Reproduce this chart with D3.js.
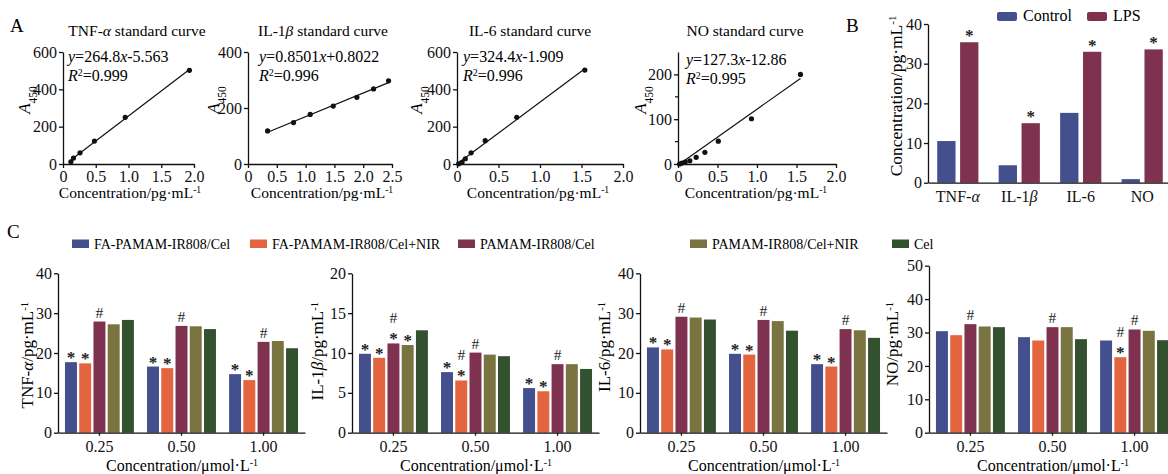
<!DOCTYPE html>
<html>
<head>
<meta charset="utf-8">
<script src="https://cdn.jsdelivr.net/npm/d3@7"></script>
<style>
  body { margin: 0; background: #fff; }
  svg { font-family: "Liberation Serif", "Times New Roman", serif; }
</style>
</head>
<body>
<svg id="fig" width="1168" height="474"></svg>
<script>
// ---- data: standard curves (A)
const stdTitles = ["TNF-{α} standard curve", "IL-1{β} standard curve", "IL-6 standard curve", "NO standard curve"];
const stdEquations = ["{y}=264.8{x}-5.563", "{y}=0.8501{x}+0.8022", "{y}=324.4{x}-1.909", "{y}=127.3{x}-12.86"];
const stdR2 = ["0.999", "0.996", "0.996", "0.995"];
const tnfStdX = [0.12, 0.16, 0.26, 0.48, 0.95, 1.93];
const tnfStdY = [12, 32, 60, 123, 250, 502];
const il1bStdX = [0.34, 0.79, 1.08, 1.48, 1.89, 2.18, 2.44];
const il1bStdY = [118, 148, 177, 207, 238, 268, 297];
const il6StdX = [0.02, 0.06, 0.10, 0.17, 0.34, 0.72, 1.54];
const il6StdY = [1, 9, 28, 60, 125, 250, 503];
const noStdX = [0.02, 0.05, 0.09, 0.15, 0.23, 0.34, 0.51, 0.93, 1.55];
const noStdY = [0, 2, 4, 7, 15, 26, 51, 101, 200];

// ---- data: control vs LPS (B)
const bCategories = ["TNF-{α}", "IL-1{β}", "IL-6", "NO"];
const bSeries = ["Control", "LPS"];
const bControl = [10.5, 4.4, 17.6, 0.9];
const bLPS = [35.4, 15.0, 33.0, 33.6];
const bMarks = ["*", "*", "*", "*"];

// ---- data: treatments (C)
const concLabels = ["0.25", "0.50", "1.00"];
const groupNames = ["FA-PAMAM-IR808/Cel", "FA-PAMAM-IR808/Cel+NIR", "PAMAM-IR808/Cel", "PAMAM-IR808/Cel+NIR", "Cel"];
const tnfVals = [[17.7, 17.4, 27.9, 27.2, 28.3], [16.6, 16.2, 26.8, 26.7, 26.0], [14.7, 13.2, 22.8, 23.0, 21.2]];
const tnfMarks = [["*", "*", "#", "", ""], ["*", "*", "#", "", ""], ["*", "*", "#", "", ""]];
const il1bVals = [[9.9, 9.4, 11.2, 11.0, 12.85], [7.6, 6.55, 10.05, 9.8, 9.6], [5.6, 5.2, 8.6, 8.6, 8.0]];
const il1bMarks = [["*", "*", "#*", "*", ""], ["*", "#*", "#", "", ""], ["*", "*", "#", "", ""]];
const il6Vals = [[21.4, 20.9, 29.1, 28.9, 28.4], [19.8, 19.6, 28.3, 28.0, 25.6], [17.2, 16.6, 26.0, 25.7, 23.8]];
const il6Marks = [["*", "*", "#", "", ""], ["*", "*", "#", "", ""], ["*", "*", "#", "", ""]];
const noVals = [[30.4, 29.2, 32.5, 31.8, 31.6], [28.6, 27.6, 31.6, 31.6, 28.0], [27.6, 22.6, 30.9, 30.5, 27.7]];
const noMarks = [["", "", "#", "", ""], ["", "", "#", "", ""], ["", "#*", "#", "", ""]];

const colors = ["#444f8e", "#e2653f", "#7e3250", "#78733f", "#34512f"];

const svg = d3.select("#fig");

// text with {italic}, ^{sup}, _{sub}
function rich(text, str) {
    str.split(/(\^\{[^}]*\}|_\{[^}]*\}|\{[^}]*\})/).filter(s => s !== "").forEach(s => {
        if (s.startsWith("^{")) {
            text.append("tspan").text(s.slice(2, -1)).attr("baseline-shift", "super").style("font-size", "0.62em");
        } else if (s.startsWith("_{")) {
            text.append("tspan").text(s.slice(2, -1)).attr("baseline-shift", "sub").style("font-size", "0.68em");
        } else if (s.startsWith("{")) {
            text.append("tspan").text(s.slice(1, -1)).style("font-style", "italic");
        } else {
            text.append("tspan").text(s);
        }
    });
    return text;
}

function styleAxis(g, fs) {
    g.selectAll(".domain, line").attr("stroke", "#111").attr("stroke-width", 1.3);
    g.selectAll("text").attr("fill", "#111").style("font-size", fs + "px").style("font-family", "Liberation Serif");
}

function fitLine(xs, ys) {
    const mx = d3.mean(xs), my = d3.mean(ys);
    let sxy = 0, sxx = 0;
    xs.forEach((x, i) => { sxy += (x - mx) * (ys[i] - my); sxx += (x - mx) * (x - mx); });
    const b = sxy / sxx;
    return [b, my - b * mx];
}

// ---------- A: standard curves
const stdData = [[tnfStdX, tnfStdY], [il1bStdX, il1bStdY], [il6StdX, il6StdY], [noStdX, noStdY]];
const stdLayout = [
    { x0: 63, x1: 194, xMax: 2, yMax: 600, yTicks: [0, 200, 400, 600], minor: [], cx: 130, tx: 137, eqX: 68, eqY: 62, labX: 30 },
    { x0: 248, x1: 392, xMax: 2.5, yMax: 400, yTicks: [0, 200, 400], minor: [], cx: 322, tx: 323, eqX: 259, eqY: 62, labX: 219 },
    { x0: 457, x1: 623, xMax: 2, yMax: 600, yTicks: [0, 200, 400, 600], minor: [], cx: 538, tx: 530, eqX: 463, eqY: 62, labX: 422 },
    { x0: 678, x1: 836, xMax: 2, yMax: 250, yTicks: [0, 100, 200], minor: [50, 150], cx: 756, tx: 745, eqX: 686, eqY: 65, labX: 646 }
];
const yTopA = 52, yBotA = 164;

stdLayout.forEach((L, k) => {
    const [xs, ys] = stdData[k];
    const x = d3.scaleLinear().domain([0, L.xMax]).range([L.x0, L.x1]);
    const y = d3.scaleLinear().domain([0, L.yMax]).range([yBotA, yTopA]);
    const g = svg.append("g");
    const xt = d3.range(0, L.xMax + 0.01, 0.5);
    g.append("g").attr("transform", `translate(0,${yBotA})`)
        .call(d3.axisBottom(x).tickValues(xt).tickSize(4).tickSizeOuter(0).tickPadding(3)
            .tickFormat(d => d === 0 ? "0" : d3.format(".1f")(d)))
        .call(a => styleAxis(a, 16));
    g.append("g").attr("transform", `translate(${L.x0},0)`)
        .call(d3.axisLeft(y).tickValues(L.yTicks).tickSize(4).tickSizeOuter(0).tickPadding(2))
        .call(a => styleAxis(a, 16));
    g.selectAll(".minor").data(L.minor).join("line")
        .attr("x1", L.x0 - 3).attr("x2", L.x0).attr("y1", d => y(d)).attr("y2", d => y(d))
        .attr("stroke", "#111").attr("stroke-width", 1.2);

    const [b, a] = fitLine(xs, ys);
    const lx0 = d3.min(xs), lx1 = d3.max(xs);
    g.append("line")
        .attr("x1", x(lx0)).attr("y1", y(Math.max(0, a + b * lx0)))
        .attr("x2", x(lx1)).attr("y2", y(a + b * lx1))
        .attr("stroke", "#111").attr("stroke-width", 1.2);
    g.selectAll("circle").data(xs).join("circle")
        .attr("cx", d => x(d)).attr("cy", (d, i) => y(ys[i])).attr("r", 2.6).attr("fill", "#111");

    rich(g.append("text").attr("x", L.tx).attr("y", 36).attr("text-anchor", "middle")
        .style("font-size", "15.5px"), stdTitles[k]);
    rich(g.append("text").attr("x", L.eqX).attr("y", L.eqY).style("font-size", "16px"), stdEquations[k]);
    rich(g.append("text").attr("x", L.eqX).attr("y", L.eqY + 19).style("font-size", "16px"), "{R}^{2}=" + stdR2[k]);
    rich(g.append("text").attr("transform", `translate(${L.labX},100) rotate(-90)`).attr("text-anchor", "middle")
        .style("font-size", "17px"), "{A}_{450}");
    rich(g.append("text").attr("x", L.cx).attr("y", 198).attr("text-anchor", "middle")
        .style("font-size", "15.5px"), "Concentration/pg·mL^{-1}");
});

svg.append("text").attr("x", 10).attr("y", 32).style("font-size", "19px").text("A");
svg.append("text").attr("x", 846).attr("y", 32).style("font-size", "19px").text("B");
svg.append("text").attr("x", 7).attr("y", 238).style("font-size", "19px").text("C");

// ---------- B: control vs LPS
{
    const x = d3.scaleBand().domain(bCategories).range([928, 1172]).paddingInner(0.33).paddingOuter(0.15);
    const xi = d3.scaleBand().domain(bSeries).range([0, x.bandwidth()]).paddingInner(0.2);
    const y = d3.scaleLinear().domain([0, 40]).range([182.7, 24]);
    const g = svg.append("g");
    const rows = bCategories.map((c, i) => ({ c, vals: [bControl[i], bLPS[i]], mark: bMarks[i] }));
    const grp = g.selectAll(".bg").data(rows).join("g").attr("transform", d => `translate(${x(d.c)},0)`);
    grp.selectAll("rect").data(d => d.vals.map((v, j) => ({ s: bSeries[j], v }))).join("rect")
        .attr("x", d => xi(d.s)).attr("width", xi.bandwidth())
        .attr("y", d => y(d.v)).attr("height", d => y(0) - y(d.v))
        .attr("fill", d => d.s === "Control" ? colors[0] : colors[2]);
    grp.append("text").attr("x", xi("LPS") + xi.bandwidth() / 2).attr("y", d => y(d.vals[1]) - 1)
        .attr("text-anchor", "middle").style("font-size", "17px").style("font-weight", "bold")
        .attr("fill", "#222").text(d => d.mark);

    g.append("g").attr("transform", `translate(0,${y(0)})`)
        .call(d3.axisBottom(x).tickSize(0).tickPadding(8))
        .call(a => styleAxis(a, 16))
        .call(a => a.selectAll(".tick text").each(function (d) { const t = d3.select(this); t.text(null); rich(t, d); }));
    g.append("g").attr("transform", `translate(928,0)`)
        .call(d3.axisLeft(y).tickValues([0, 10, 20, 30, 40]).tickSize(4).tickSizeOuter(0).tickPadding(2))
        .call(a => styleAxis(a, 16));
    rich(g.append("text").attr("transform", "translate(902,96) rotate(-90)").attr("text-anchor", "middle")
        .style("font-size", "17.5px"), "Concentration/pg·mL^{-1}");

    const legX = [997, 1087];
    bSeries.forEach((s, j) => {
        g.append("rect").attr("x", legX[j]).attr("y", 12).attr("width", 20).attr("height", 9).attr("rx", 2)
            .attr("fill", j === 0 ? colors[0] : colors[2]);
        g.append("text").attr("x", legX[j] + 26).attr("y", 21).style("font-size", "16px").text(s);
    });
}

// ---------- C legend
const legendX = [72, 250, 458, 690, 892];
groupNames.forEach((n, j) => {
    svg.append("rect").attr("x", legendX[j]).attr("y", 239.5).attr("width", 17).attr("height", 8.5).attr("fill", colors[j]);
    svg.append("text").attr("x", legendX[j] + 22).attr("y", 249).style("font-size", "14px").text(n);
});

// ---------- C panels
const cPanels = [
    { vals: tnfVals, marks: tnfMarks, yMax: 40, ticks: [0, 10, 20, 30, 40], yTop: 273.3, x0: 58, label: "TNF-{α}/pg·mL^{-1}", labX: 33 },
    { vals: il1bVals, marks: il1bMarks, yMax: 20, ticks: [0, 5, 10, 15, 20], yTop: 273.3, x0: 352, label: "IL-1{β}/pg·mL^{-1}", labX: 323 },
    { vals: il6Vals, marks: il6Marks, yMax: 40, ticks: [0, 10, 20, 30, 40], yTop: 273.3, x0: 640, label: "IL-6/pg·mL^{-1}", labX: 610 },
    { vals: noVals, marks: noMarks, yMax: 50, ticks: [0, 10, 20, 30, 40, 50], yTop: 265.7, x0: 929, label: "NO/pg·mL^{-1}", labX: 898 }
];
const yBotC = 432.7;

cPanels.forEach(P => {
    const x = d3.scaleBand().domain(concLabels).range([P.x0, P.x0 + 247]).paddingInner(0.16).paddingOuter(0.085);
    const xi = d3.scaleBand().domain(d3.range(groupNames.length)).range([0, x.bandwidth()]).paddingInner(0.16);
    const y = d3.scaleLinear().domain([0, P.yMax]).range([yBotC, P.yTop]);
    const g = svg.append("g");
    const grp = g.selectAll(".cg").data(concLabels).join("g").attr("transform", d => `translate(${x(d)},0)`);
    const cells = (c, i) => P.vals[i].map((v, j) => ({ j, v, m: P.marks[i][j] }));
    grp.selectAll("rect").data(cells).join("rect")
        .attr("x", d => xi(d.j)).attr("width", xi.bandwidth())
        .attr("y", d => y(d.v)).attr("height", d => yBotC - y(d.v))
        .attr("fill", d => colors[d.j]);
    grp.selectAll(".star").data((c, i) => cells(c, i).filter(d => d.m.includes("*"))).join("text")
        .attr("x", d => xi(d.j) + xi.bandwidth() / 2).attr("y", d => y(d.v) + 1)
        .attr("text-anchor", "middle").style("font-size", "17px").style("font-weight", "bold")
        .attr("fill", "#222").text("*");
    grp.selectAll(".hash").data((c, i) => cells(c, i).filter(d => d.m.includes("#"))).join("text")
        .attr("x", d => xi(d.j) + xi.bandwidth() / 2).attr("y", d => y(d.v) - (d.m.includes("*") ? 20 : 4))
        .attr("text-anchor", "middle").style("font-size", "15.5px").attr("fill", "#222").text("#");

    g.append("g").attr("transform", `translate(0,${yBotC})`)
        .call(d3.axisBottom(x).tickSize(3).tickSizeOuter(0).tickPadding(5))
        .call(a => styleAxis(a, 16));
    g.append("g").attr("transform", `translate(${P.x0},0)`)
        .call(d3.axisLeft(y).tickValues(P.ticks).tickSize(4).tickSizeOuter(0).tickPadding(2))
        .call(a => styleAxis(a, 16));
    rich(g.append("text").attr("transform", `translate(${P.labX},302) rotate(-90)`).attr("text-anchor", "end")
        .style("font-size", "17px"), P.label);
    rich(g.append("text").attr("x", P.x0 + 124).attr("y", 471).attr("text-anchor", "middle")
        .style("font-size", "16px"), "Concentration/μmol·L^{-1}");
});
</script>
</body>
</html>
